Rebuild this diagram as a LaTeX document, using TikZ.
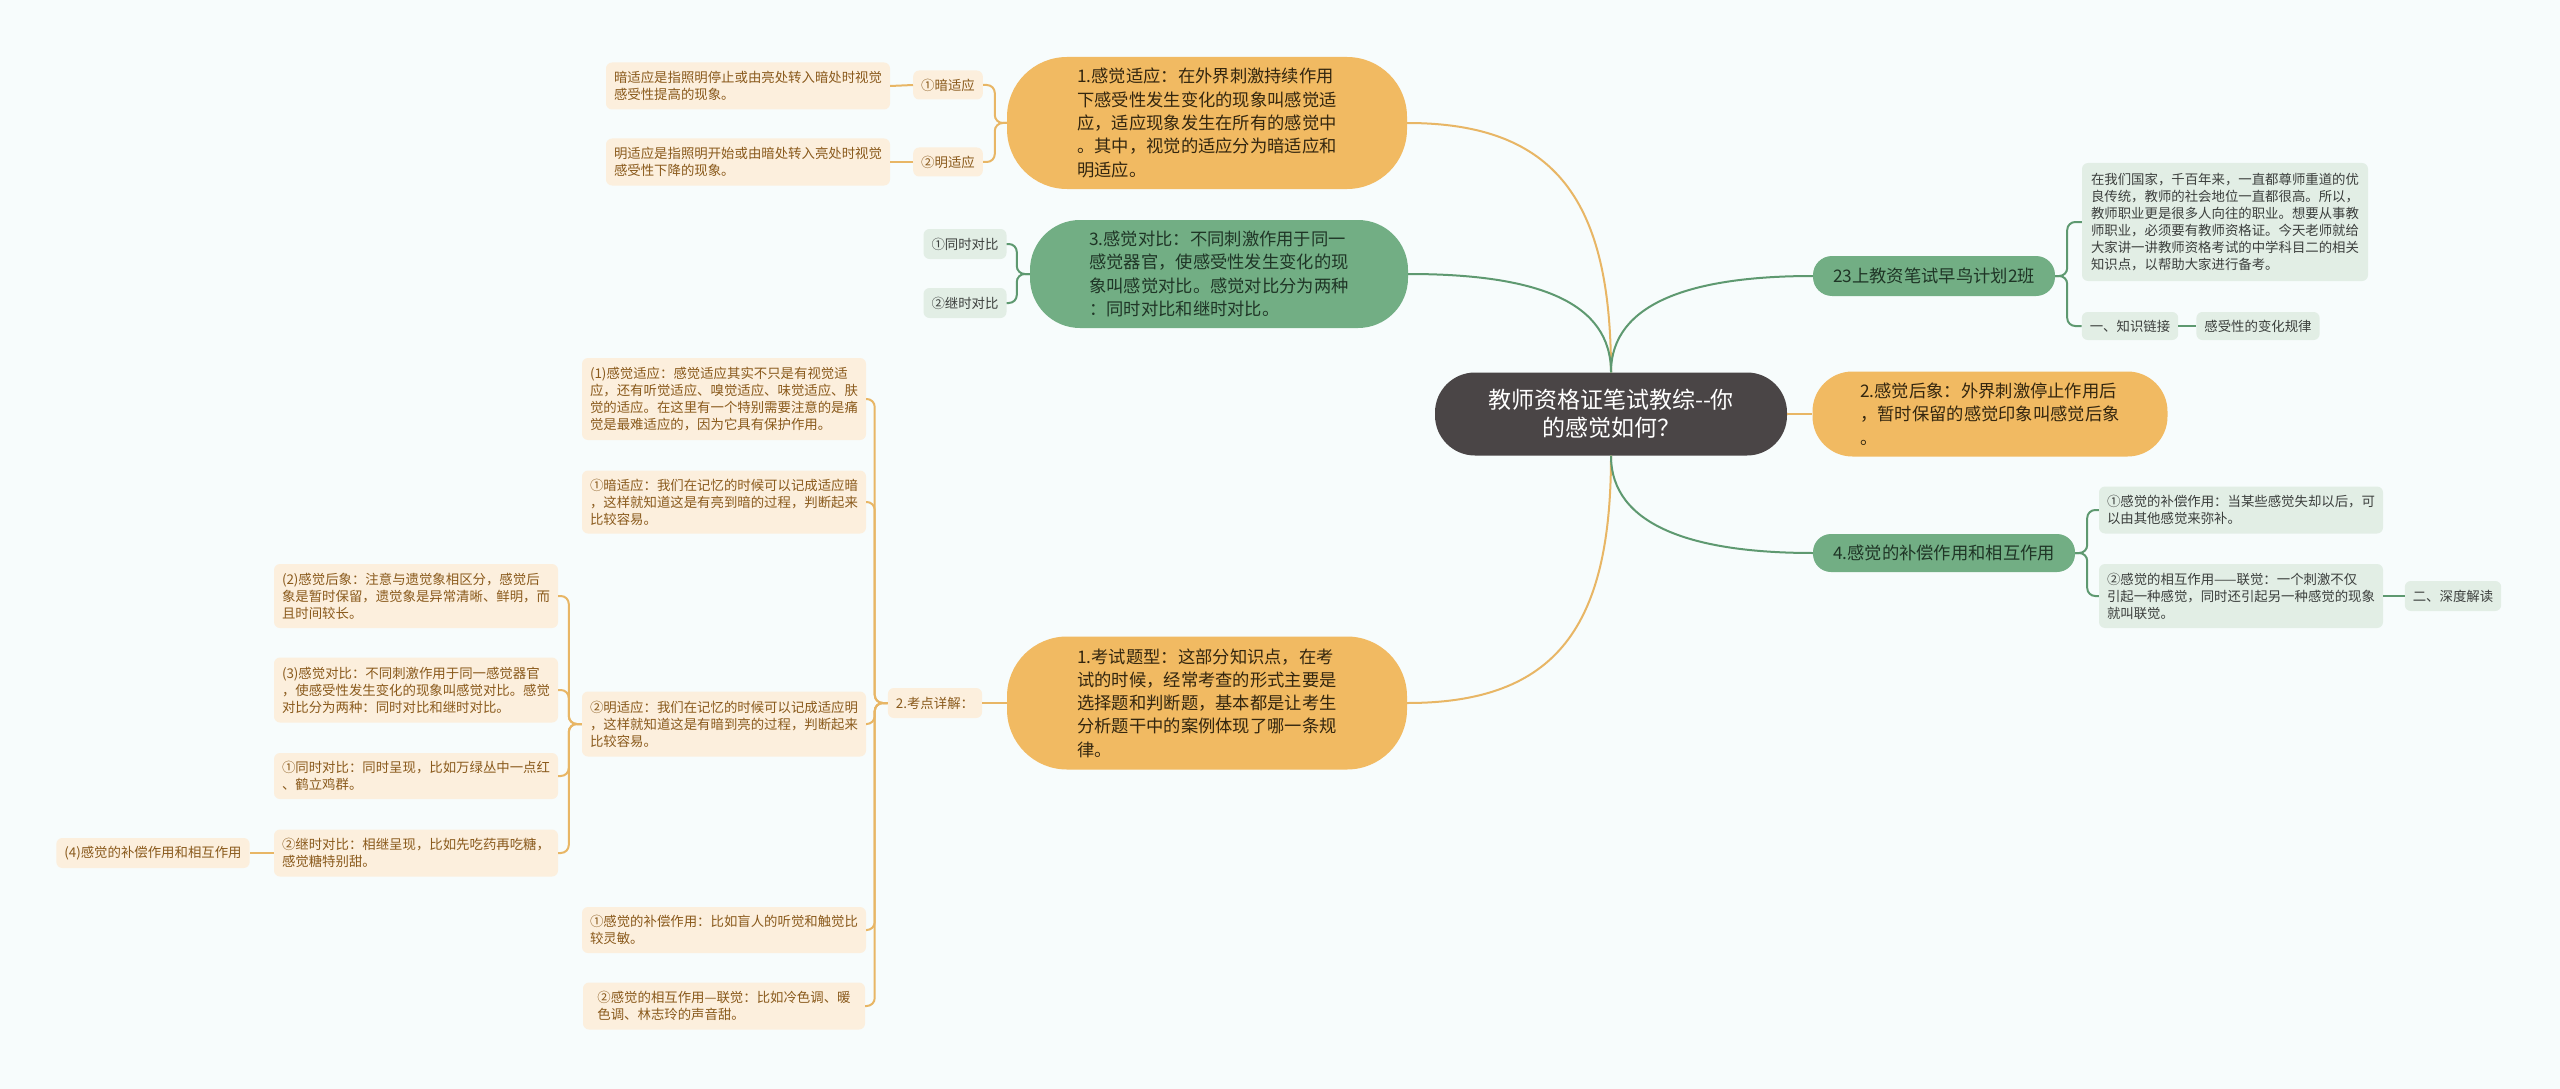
\documentclass[tikz,border=0pt]{standalone}
\usepackage{fontspec}
\setmainfont{Noto Sans CJK SC}
\usepackage{tikz}
\definecolor{bgc}{HTML}{F7FCFC}
\definecolor{rootc}{HTML}{4A4546}
\definecolor{orangec}{HTML}{F1BA62}
\definecolor{obigtext}{HTML}{33260F}
\definecolor{oleafc}{HTML}{FCEFDD}
\definecolor{oleaftext}{HTML}{8A5A1C}
\definecolor{olinec}{HTML}{E8B665}
\definecolor{greenc}{HTML}{72AE84}
\definecolor{gbigtext}{HTML}{1F3526}
\definecolor{gleafc}{HTML}{E2EEE5}
\definecolor{gleaftext}{HTML}{3C3F3D}
\definecolor{glinec}{HTML}{5E9970}
\tikzstyle{rootbox} = [fill=rootc,text=white,minimum width=352pt,minimum height=83pt,rounded corners=40pt,align=center,font=\fontsize{23}{28}\selectfont]
\tikzstyle{obig} = [fill=orangec,text=obigtext,rounded corners=60pt,align=left,font=\fontsize{17.3}{23.3}\selectfont]
\tikzstyle{gbig} = [fill=greenc,text=gbigtext,rounded corners=50pt,align=left,font=\fontsize{17.3}{23.3}\selectfont]
\tikzstyle{oleaf} = [fill=oleafc,text=oleaftext,rounded corners=6pt,align=left,inner xsep=8pt,minimum width=282pt,font=\fontsize{13.4}{17}\selectfont]
\tikzstyle{gleaf} = [fill=gleafc,text=gleaftext,rounded corners=6pt,align=left,inner xsep=8pt,minimum width=282pt,font=\fontsize{13.4}{17}\selectfont]
\tikzstyle{oline} = [draw=olinec,line width=2pt]
\tikzstyle{gline} = [draw=glinec,line width=2pt]

\begin{document}
\begin{tikzpicture}[x=1pt,y=-1pt,elbow/.style={rounded corners=8pt}]
    \useasboundingbox (0,0) rectangle (2560,1089);
    \fill[bgc] (0,0) rectangle (2560,1089);

    \node[rootbox] (root) at (1611,414) {教师资格证笔试教综-{}-你\\的感觉如何？};

    % left side
    \node[obig,minimum width=400pt,minimum height=132pt] (adapt) at (1207,123) {1.感觉适应：在外界刺激持续作用\\下感受性发生变化的现象叫感觉适\\应，适应现象发生在所有的感觉中\\。其中，视觉的适应分为暗适应和\\明适应。};
    \node[oleaf,minimum width=67pt,minimum height=29pt] (dark) at (948,85) {①暗适应};
    \node[oleaf,minimum width=67pt,minimum height=29pt] (light) at (948,162) {②明适应};
    \node[oleaf,minimum height=47pt] (darktxt) at (748,86) {暗适应是指照明停止或由亮处转入暗处时视觉\\感受性提高的现象。};
    \node[oleaf,minimum height=47pt] (lighttxt) at (748,162) {明适应是指照明开始或由暗处转入亮处时视觉\\感受性下降的现象。};

    \node[gbig,minimum width=378pt,minimum height=108pt] (contrast) at (1219,274) {3.感觉对比：不同刺激作用于同一\\感觉器官，使感受性发生变化的现\\象叫感觉对比。感觉对比分为两种\\：同时对比和继时对比。};
    \node[gleaf,minimum width=80pt,minimum height=30pt] (same) at (965,244) {①同时对比};
    \node[gleaf,minimum width=80pt,minimum height=30pt] (succ) at (965,303) {②继时对比};

    \node[obig,minimum width=400pt,minimum height=133pt] (exam) at (1207,703) {1.考试题型：这部分知识点，在考\\试的时候，经常考查的形式主要是\\选择题和判断题，基本都是让考生\\分析题干中的案例体现了哪一条规\\律。};
    \node[oleaf,minimum width=91pt,minimum height=30pt] (points) at (935,703) {2.考点详解：};
    \node[oleaf,minimum height=82pt] (k1) at (724,399) {(1)感觉适应：感觉适应其实不只是有视觉适\\应，还有听觉适应、嗅觉适应、味觉适应、肤\\觉的适应。在这里有一个特别需要注意的是痛\\觉是最难适应的，因为它具有保护作用。};
    \node[oleaf,minimum height=63pt] (k2) at (724,502) {①暗适应：我们在记忆的时候可以记成适应暗\\，这样就知道这是有亮到暗的过程，判断起来\\比较容易。};
    \node[oleaf,minimum height=65pt] (k3) at (724,724) {②明适应：我们在记忆的时候可以记成适应明\\，这样就知道这是有暗到亮的过程，判断起来\\比较容易。};
    \node[oleaf,minimum height=46pt] (k4) at (724,930) {①感觉的补偿作用：比如盲人的听觉和触觉比\\较灵敏。};
    \node[oleaf,minimum height=47pt] (k5) at (724,1006) {②感觉的相互作用—联觉：比如冷色调、暖\\色调、林志玲的声音甜。};
    \node[oleaf,minimum height=64pt] (m1) at (416,596) {(2)感觉后象：注意与遗觉象相区分，感觉后\\象是暂时保留，遗觉象是异常清晰、鲜明，而\\且时间较长。};
    \node[oleaf,minimum height=65pt] (m2) at (416,690) {(3)感觉对比：不同刺激作用于同一感觉器官\\，使感受性发生变化的现象叫感觉对比。感觉\\对比分为两种：同时对比和继时对比。};
    \node[oleaf,minimum height=46pt] (m3) at (416,776) {①同时对比：同时呈现，比如万绿丛中一点红\\、鹤立鸡群。};
    \node[oleaf,minimum height=47pt] (m4) at (416,853) {②继时对比：相继呈现，比如先吃药再吃糖，\\感觉糖特别甜。};
    \node[oleaf,minimum width=191pt,minimum height=30pt] (m5) at (153,853) {(4)感觉的补偿作用和相互作用};

    % right side
    \node[gbig,minimum width=242pt,minimum height=40pt,rounded corners=19pt] (plan) at (1934,276) {23上教资笔试早鸟计划2班};
    \node[gleaf,minimum width=286pt,minimum height=118pt] (intro) at (2225,222) {在我们国家，千百年来，一直都尊师重道的优\\良传统，教师的社会地位一直都很高。所以，\\教师职业更是很多人向往的职业。想要从事教\\师职业，必须要有教师资格证。今天老师就给\\大家讲一讲教师资格考试的中学科目二的相关\\知识点，以帮助大家进行备考。};
    \node[gleaf,minimum width=94pt,minimum height=28pt] (link) at (2130,326) {一、知识链接};
    \node[gleaf,minimum width=112pt,minimum height=28pt] (rule) at (2258,326) {感受性的变化规律};

    \node[obig,minimum width=355pt,minimum height=85pt,rounded corners=40pt] (after) at (1990,414) {2.感觉后象：外界刺激停止作用后\\，暂时保留的感觉印象叫感觉后象\\。};

    \node[gbig,minimum width=262pt,minimum height=38pt,rounded corners=18pt] (comp) at (1944,553) {4.感觉的补偿作用和相互作用};
    \node[gleaf,minimum height=47pt] (c1) at (2241,510) {①感觉的补偿作用：当某些感觉失却以后，可\\以由其他感觉来弥补。};
    \node[gleaf,minimum height=64pt] (c2) at (2241,596) {②感觉的相互作用——联觉：一个刺激不仅\\引起一种感觉，同时还引起另一种感觉的现象\\就叫联觉。};
    \node[gleaf,minimum width=90pt,minimum height=30pt] (deep) at (2453,596) {二、深度解读};

    % connectors
    \draw[oline] (root.north) .. controls +(0,-170) and +(150,0) .. (adapt.east);
    \draw[gline] (root.north) .. controls +(0,-70) and +(130,0) .. (contrast.east);
    \draw[oline] (root.south) .. controls +(0,170) and +(150,0) .. (exam.east);
    \draw[gline] (root.north) .. controls +(0,-70) and +(-120,0) .. (plan.west);
    \draw[oline] (root.east) -- (after.west);
    \draw[gline] (root.south) .. controls +(0,70) and +(-120,0) .. (comp.west);

    \foreach \c in {dark,light}
        \draw[oline,elbow] (adapt.west) -- ++(-12,0) |- (\c.east);
    \draw[oline] (dark.west) -- (darktxt.east);
    \draw[oline] (light.west) -- (lighttxt.east);
    \foreach \c in {same,succ}
        \draw[gline,elbow] (contrast.west) -- ++(-13,0) |- (\c.east);
    \draw[oline] (exam.west) -- (points.east);
    \foreach \c in {k1,k2,k3,k4,k5}
        \draw[oline,elbow] (points.west) -- ++(-13,0) |- (\c.east);
    \foreach \c in {m1,m2,m3,m4}
        \draw[oline,elbow] (k3.west) -- ++(-13,0) |- (\c.east);
    \draw[oline] (m4.west) -- (m5.east);

    \foreach \c in {intro,link}
        \draw[gline,elbow] (plan.east) -- ++(12,0) |- (\c.west);
    \draw[gline] (link.east) -- (rule.west);
    \foreach \c in {c1,c2}
        \draw[gline,elbow] (comp.east) -- ++(12,0) |- (\c.west);
    \draw[gline] (c2.east) -- (deep.west);
\end{tikzpicture}
\end{document}
